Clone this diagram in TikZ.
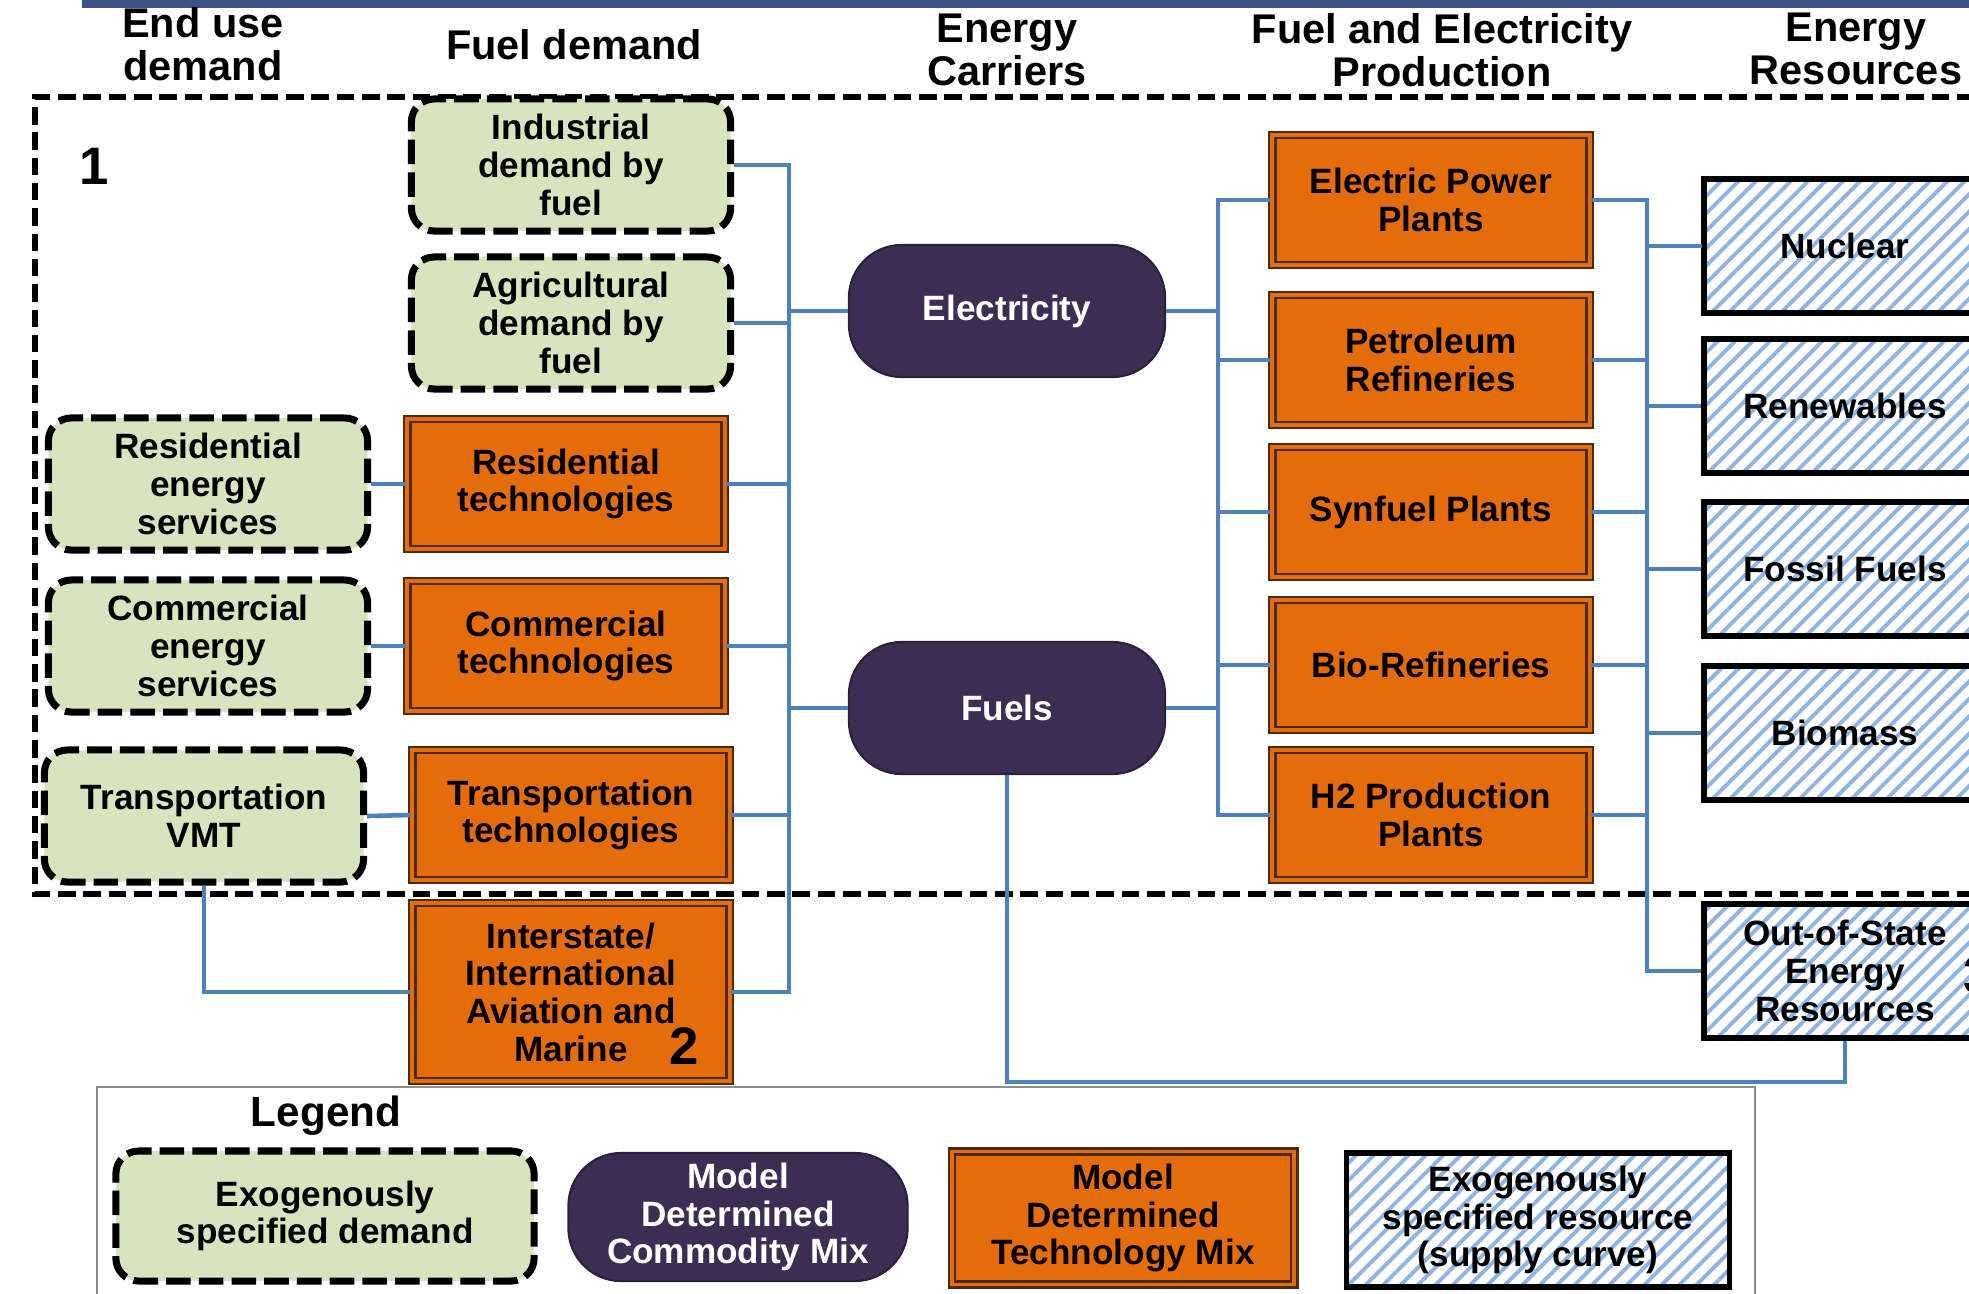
\documentclass[tikz,border=0pt]{standalone}
\usepackage{fontspec}
\setmainfont{Liberation Sans}
\usetikzlibrary{patterns.meta}

\begin{document}
\begin{tikzpicture}[x=0.01cm,y=-0.01cm,
  txt/.style={font=\bfseries\fontsize{10}{10.7}\selectfont, align=center, inner sep=0pt},
  head/.style={font=\bfseries\fontsize{11.8}{12.1}\selectfont, align=center, inner sep=0pt},
  demand/.style={txt, draw=black, fill=demgreen, line width=2pt, dash pattern=on 7pt off 2.3pt, rounded corners=6.5pt, minimum width=3.19cm, minimum height=1.32cm},
  tech/.style={txt, draw=techedge, double=techorange, double distance=1.1pt, line width=0.7pt, fill=techorange, minimum width=3.17cm, minimum height=1.30cm},
  carrier/.style={txt, text=white, fill=carrierpurple, draw=carrierpurple!70!black, line width=0.6pt, rounded corners=15pt, minimum width=3.16cm, minimum height=1.32cm},
  resource/.style={txt, draw=black, line width=1.6pt, preaction={fill=white}, pattern={Lines[angle=45,distance=3.5pt,line width=1.1pt]}, pattern color=stripeblue, minimum width=2.82cm, minimum height=1.34cm},
  wire/.style={wireblue, line width=1.3pt},
  frame/.style={line width=1.7pt, dash pattern=on 5pt off 2.2pt},
  bignum/.style={font=\bfseries\fontsize{15}{15}\selectfont, inner sep=0pt}
]
  \definecolor{demgreen}{HTML}{D7E4BD}
  \definecolor{techorange}{HTML}{E46C0A}
  \definecolor{techedge}{HTML}{4A2A10}
  \definecolor{carrierpurple}{HTML}{3D2D52}
  \definecolor{stripeblue}{HTML}{8EB4E3}
  \definecolor{wireblue}{HTML}{4F81BD}
  \definecolor{barblue}{HTML}{3B5488}
  \definecolor{legendgray}{HTML}{8C8C8C}

  \useasboundingbox (0,0) rectangle (1969,1293);
  \clip (0,0) rectangle (1969,1293);

  \fill[barblue] (82,0) rectangle (1969,8);

  \node[head] (hend) at (203,44) {End use\\demand};
  \node[head] (hfuel) at (574,45) {Fuel demand};
  \node[head] (hcarr) at (1007,50) {Energy\\Carriers};
  \node[head] (hprod) at (1442,50) {Fuel and Electricity\\Production};
  \node[head] (hres) at (1856,49) {Energy\\Resources};

  \draw[frame] (2000,97) -| (35,894) -- (2000,894);
  \draw[legendgray, line width=0.8pt] (97,1320) |- (1755,1087) -- (1755,1320);

  \node[bignum] (one) at (94,166) {1};

  \node[demand] (ind) at (571,165) {Industrial\\demand by\\fuel};
  \node[demand] (agr) at (571,323) {Agricultural\\demand by\\fuel};
  \node[demand] (resserv) at (208,484) {Residential\\energy\\services};
  \node[demand] (comserv) at (208,646) {Commercial\\energy\\services};
  \node[demand] (trnserv) at (204,816) {Transportation\\VMT};

  \node[tech] (restech) at (566,484) {Residential\\technologies};
  \node[tech] (comtech) at (566,646) {Commercial\\technologies};
  \node[tech] (trntech) at (571,815) {Transportation\\technologies};
  \node[tech, minimum height=1.78cm] (avia) at (571,992) {Interstate/\\International\\Aviation and\\Marine};
  \node[bignum] (two) at (684,1046) {2};

  \node[carrier] (elec) at (1007,311) {Electricity};
  \node[carrier] (fuels) at (1007,708) {Fuels};

  \node[tech] (epp) at (1431,200) {Electric Power\\Plants};
  \node[tech] (pet) at (1431,360) {Petroleum\\Refineries};
  \node[tech] (syn) at (1431,512) {Synfuel Plants};
  \node[tech] (bio) at (1431,665) {Bio-Refineries};
  \node[tech] (h2) at (1431,815) {H2 Production\\Plants};

  \node[resource] (nuc) at (1845,246) {Nuclear};
  \node[resource] (ren) at (1845,406) {Renewables};
  \node[resource] (fos) at (1845,569) {Fossil Fuels};
  \node[resource] (bms) at (1845,733) {Biomass};
  \node[resource] (oos) at (1845,971) {Out-of-State\\Energy\\Resources};
  \node[bignum] (three) at (1978,975) {3};

  \coordinate (lbus) at (789,992);
  \coordinate (mbus) at (1218,815);
  \coordinate (rbus) at (1647,971);
  \coordinate (bline) at (1845,1082);

  \draw[wire] (ind.east) -| (lbus) -- (avia.east);
  \foreach \n in {agr,restech,comtech,trntech}
    \draw[wire] (\n.east) -- (\n.east -| lbus);
  \draw[wire] (elec.west) -- (elec.west -| lbus);
  \draw[wire] (fuels.west) -- (fuels.west -| lbus);
  \draw[wire] (resserv.east) -- (restech.west);
  \draw[wire] (comserv.east) -- (comtech.west);
  \draw[wire] (trnserv.east) -- (trntech.west);
  \draw[wire] (trnserv.south) |- (avia.west);

  \draw[wire] (epp.west) -| (mbus) -- (h2.west);
  \foreach \n in {pet,syn,bio}
    \draw[wire] (\n.west) -- (\n.west -| mbus);
  \draw[wire] (elec.east) -- (elec.east -| mbus);
  \draw[wire] (fuels.east) -- (fuels.east -| mbus);

  \draw[wire] (epp.east) -| (rbus) -- (oos.west);
  \foreach \n in {pet,syn,bio,h2}
    \draw[wire] (\n.east) -- (\n.east -| rbus);
  \foreach \n in {nuc,ren,fos,bms}
    \draw[wire] (\n.west) -- (\n.west -| rbus);

  \draw[wire] (fuels.south) |- (bline) -- (oos.south);

  \node[head, font=\bfseries\fontsize{12}{12}\selectfont] (lgtitle) at (326,1116) {Legend};
  \node[demand, minimum width=4.18cm, minimum height=1.30cm] (lgdem) at (325,1216) {Exogenously\\specified demand};
  \node[carrier, minimum width=3.39cm, minimum height=1.28cm] (lgcom) at (738,1217) {Model\\Determined\\Commodity Mix};
  \node[tech, minimum width=3.42cm, minimum height=1.33cm] (lgtech) at (1123,1218) {Model\\Determined\\Technology Mix};
  \node[resource, minimum width=3.83cm, minimum height=1.34cm] (lgres) at (1538,1220) {Exogenously\\specified resource\\(supply curve)};
\end{tikzpicture}
\end{document}
